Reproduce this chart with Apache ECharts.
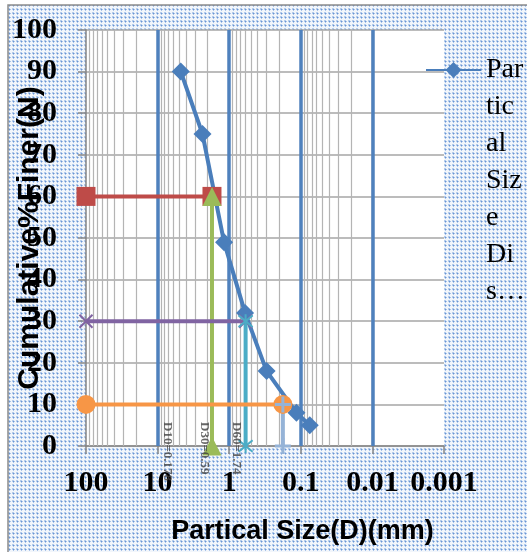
<!DOCTYPE html>
<html><head><meta charset="utf-8">
<script src="https://cdn.jsdelivr.net/npm/echarts@6/dist/echarts.min.js"></script>
<style>html,body{margin:0;padding:0;background:#fff}#c{width:527px;height:552px}</style>
</head><body><div id="c"></div>
<script>
// ---- data ----
const sizes = [4.75, 2.36, 1.18, 0.6, 0.3, 0.115, 0.075];
const finer = [90, 75, 49, 32, 18, 8, 5];
const startSize = 100;
const d60 = 1.74, d30 = 0.59, d10 = 0.178;
const xTickValues = [100, 10, 1, 0.1, 0.01, 0.001];
const xTickLabels = ['100', '10', '1', '0.1', '0.01', '0.001'];
const noteSizes = [7.3, 2.2, 0.79];
const noteTexts = ['D10=0.178', 'D30=0.59', 'D60=1.74'];
const legendName = 'Partical Size Distribution';
const legendLines = ['Par', 'tic', 'al', 'Siz', 'e', 'Di', 's…'];
const majorLines = [10, 1, 0.1, 0.01, 0.001];
const decades = [-3, -2, -1, 0, 1];
const minorMult = [2, 3, 4, 5, 6, 7, 8, 9];

// dotted background pattern
const pc = document.createElement('canvas');
pc.width = 4; pc.height = 4;
const g = pc.getContext('2d');
g.fillStyle = '#f2f6fb'; g.fillRect(0, 0, 4, 4);
g.fillStyle = '#b3cbeb'; g.fillRect(0, 0, 2, 2);
g.fillStyle = '#6a95d3'; g.fillRect(1, 1, 1, 1);
g.fillStyle = '#a9c3e8'; g.fillRect(2, 1, 1, 1); g.fillRect(1, 2, 1, 1);

const minorVals = [];
decades.forEach(k => minorMult.forEach(m => minorVals.push(m * Math.pow(10, k))));

const chart = echarts.init(document.getElementById('c'), null, {renderer: 'canvas'});
const lbl = v => {
  const i = xTickValues.findIndex(t => Math.abs(Math.log10(t) - Math.log10(v)) < 1e-6);
  return i >= 0 ? xTickLabels[i] : '';
};
function ln(name, data, color, symbol, size, extra) {
  return Object.assign({
    name, type: 'line', data, symbol, symbolSize: size, clip: false, z: 3,
    animation: false,
    lineStyle: {color, width: 4},
    itemStyle: {color}
  }, extra || {});
}
const xSym = 'path://M0,0L10,10M10,0L0,10';
const starSym = 'path://M0,0L10,10M10,0L0,10M5,-1L5,11';
const plusSym = 'path://M0,5L10,5M5,0L5,10';
const blankLines = legendLines.slice(1).map(() => '');

chart.setOption({
  animation: false,
  graphic: [{
    type: 'rect', z: -10, silent: true,
    shape: {x: 8, y: 5, width: 540, height: 560},
    style: {fill: {image: pc, repeat: 'repeat'}, stroke: '#8c8c8c', lineWidth: 1.5}
  }],
  grid: {left: 86, right: 83, top: 30, bottom: 106, show: true, backgroundColor: '#ffffff', borderWidth: 0,
    containLabel: false, outerBoundsMode: 'none'},
  legend: {
    left: 425, top: -170.5, padding: 0,
    itemWidth: 55, itemHeight: 20,
    data: [legendName],
    formatter: () => blankLines.concat(legendLines).join('\n'),
    textStyle: {fontFamily: 'Liberation Serif', fontSize: 28, lineHeight: 37, color: '#000'}
  },
  xAxis: {
    type: 'log', logBase: 10, min: 0.001, max: 100, inverse: true,
    name: 'Partical Size(D)(mm)', nameLocation: 'middle', nameGap: 72, nameMoveOverlap: false,
    nameTextStyle: {fontFamily: 'Liberation Sans', fontWeight: 'bold', fontSize: 27, color: '#000', padding: [0, 0, 0, 75]},
    axisLine: {show: true, lineStyle: {color: '#868686', width: 1.5}},
    axisTick: {show: true, length: 8, lineStyle: {color: '#868686', width: 1.5}},
    axisLabel: {formatter: lbl, margin: 22, fontFamily: 'Liberation Serif', fontWeight: 'bold', fontSize: 30, color: '#000'},
    splitLine: {show: false}
  },
  yAxis: {
    type: 'value', min: 0, max: 100, interval: 10,
    name: 'Cumulative%Finer(N)', nameLocation: 'middle', nameGap: 41, nameMoveOverlap: false,
    nameTextStyle: {fontFamily: 'Liberation Sans', fontWeight: 'bold', fontSize: 30, color: '#000'},
    axisLine: {show: true, lineStyle: {color: '#868686', width: 1.5}},
    axisTick: {show: true, length: 8, lineStyle: {color: '#868686', width: 1.5}},
    axisLabel: {margin: 29, fontFamily: 'Liberation Serif', fontWeight: 'bold', fontSize: 30, color: '#000'},
    splitLine: {show: true, lineStyle: {color: '#a6a6a6', width: 1.5}}
  },
  series: [
    {
      name: 'gridlines', type: 'line', data: [], silent: true, z: 1,
      markLine: {
        silent: true, symbol: 'none', z: 1, animation: false,
        label: {show: false},
        data: minorVals.map(v => ({xAxis: v, lineStyle: {color: '#b4b4b4', width: 1.2, type: 'solid'}}))
          .concat(majorLines.map(v => ({xAxis: v, lineStyle: {color: '#4f81bd', width: 3.5, type: 'solid'}})))
      }
    },
    ln(legendName, sizes.map((s, i) => [s, finer[i]]), '#4a7ebb', 'diamond', 18),
    ln('D60h', [[startSize, 60], [d60, 60]], '#be4b48', 'rect', 19),
    ln('D60v', [[d60, 0], [d60, 60]], '#9bbb59', 'triangle', 19),
    ln('D30h', [[startSize, 30], [d30, 30]], '#8064a2', xSym, 13,
      {itemStyle: {color: 'none', borderColor: '#8064a2', borderWidth: 2}}),
    ln('D30v', [[d30, 0], [d30, 30]], '#4bacc6', starSym, 14,
      {itemStyle: {color: 'none', borderColor: '#4bacc6', borderWidth: 2}}),
    ln('D10h', [[startSize, 10], [d10, 10]], '#f79646', 'circle', 19),
    ln('D10v', [[d10, 0], [d10, 10]], '#95b3d7', plusSym, 16,
      {itemStyle: {color: 'none', borderColor: '#95b3d7', borderWidth: 3}}),
    {
      name: 'notes', type: 'scatter', z: 4, symbolSize: 1, silent: true,
      itemStyle: {color: 'rgba(0,0,0,0)'},
      data: noteSizes.map((s, i) => [s, 0, noteTexts[i]]),
      label: {
        show: true, formatter: p => p.data[2], rotate: -90, position: 'inside',
        align: 'left', verticalAlign: 'middle', offset: [-24, 0],
        fontFamily: 'Liberation Serif', fontWeight: 'bold', fontSize: 13, color: '#404040'
      }
    }
  ]
});
</script></body></html>
